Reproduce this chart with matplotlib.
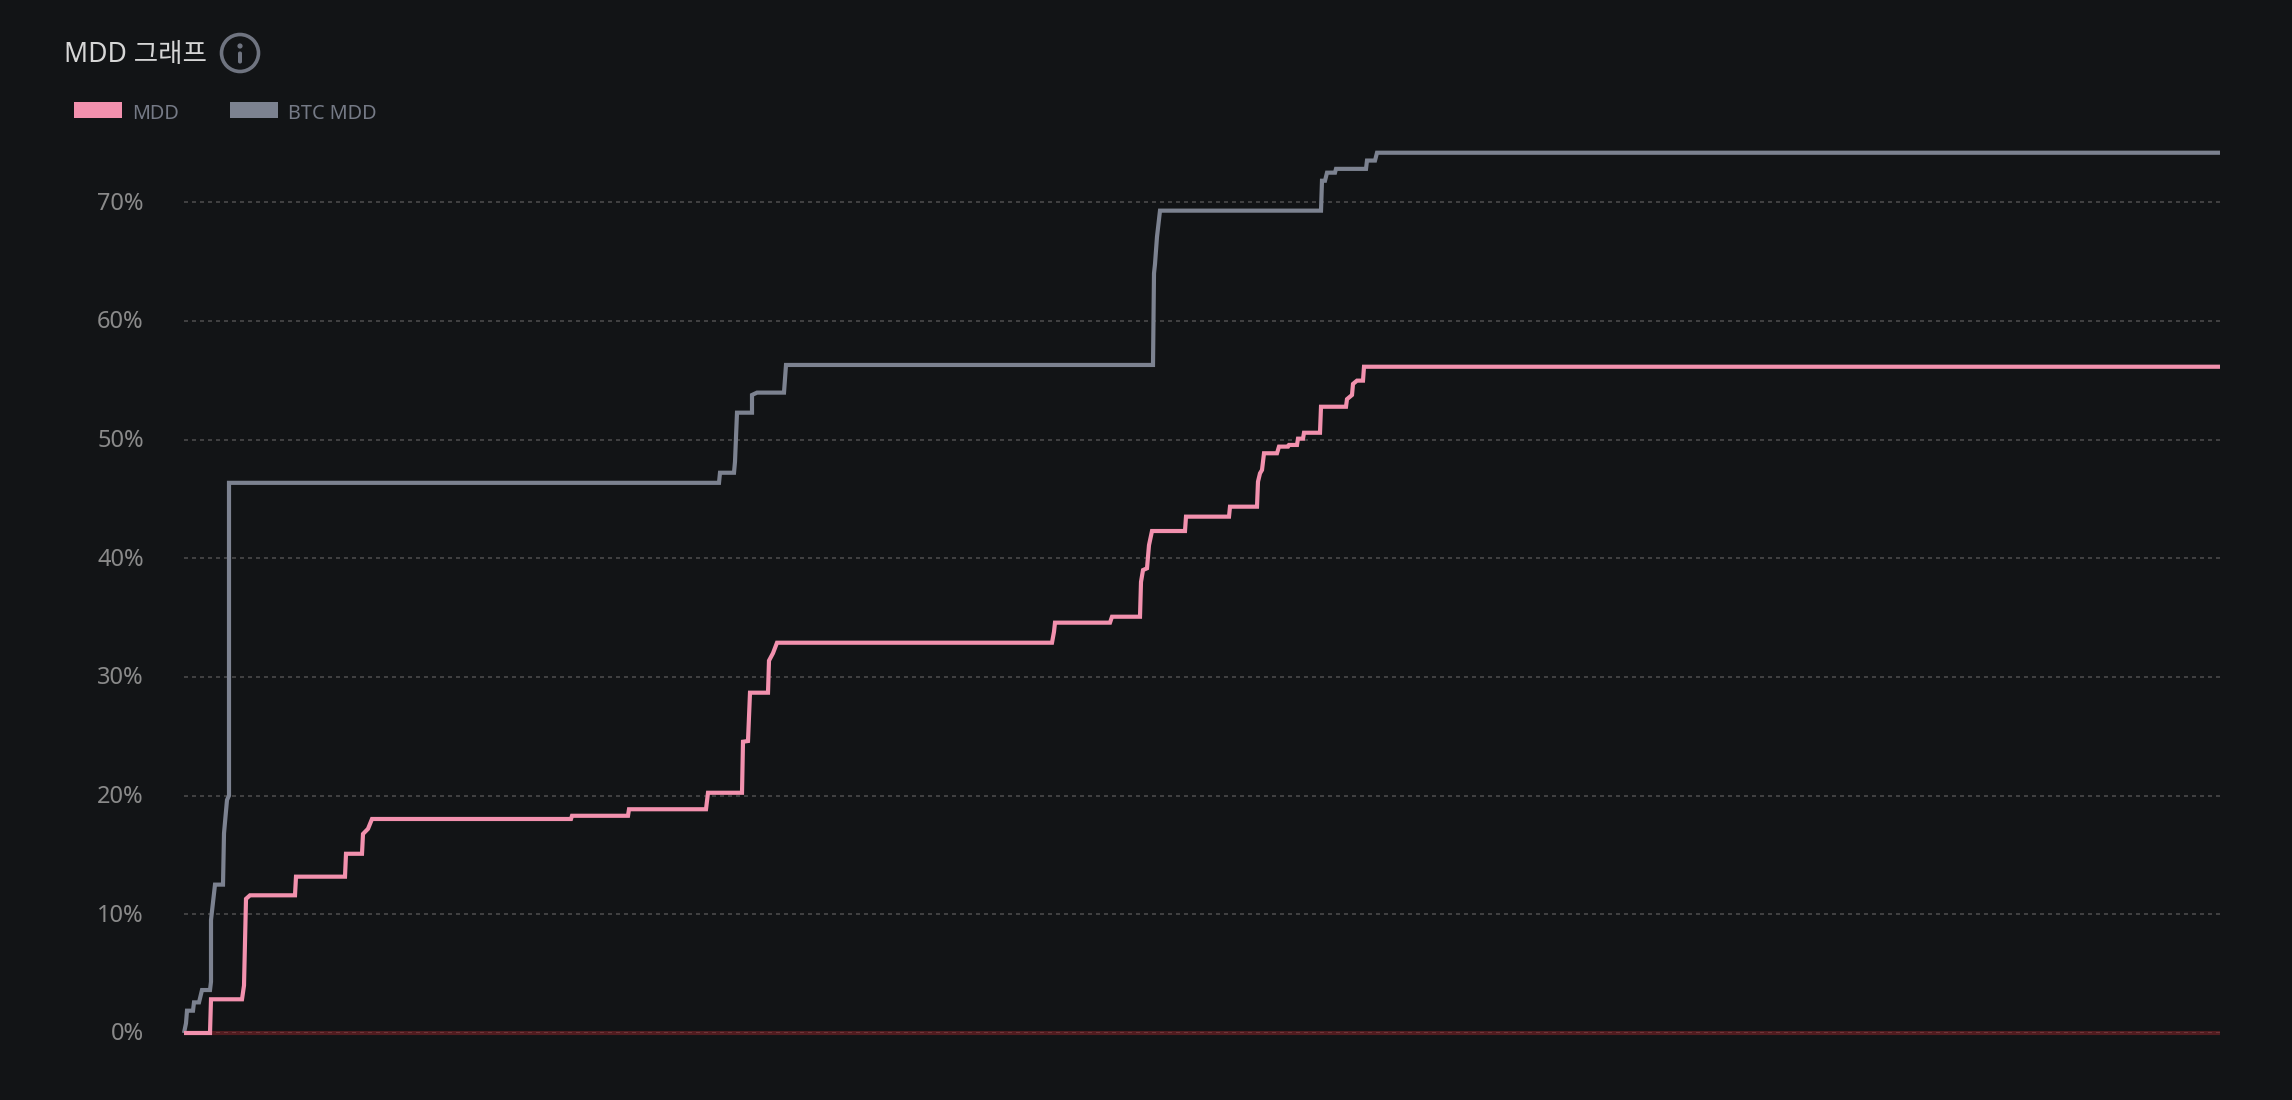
import matplotlib.pyplot as plt
from matplotlib.patches import Circle, Rectangle, FancyBboxPatch
from matplotlib.transforms import ScaledTranslation

# values, time axis has no labels so t is just chart position
mdd_t = [0, 26, 27, 58, 60, 62, 66, 111, 112, 161, 162, 178, 179, 184, 188, 387, 388, 444, 445, 522, 524, 558, 559,
         564, 566, 584, 585, 589, 593, 868, 870, 871, 926, 928, 956, 957, 959, 963, 965, 968, 1001, 1002, 1045,
         1046, 1073, 1074, 1076, 1078, 1080, 1093, 1095, 1104, 1105, 1113, 1114, 1119, 1120, 1136, 1137, 1162,
         1163, 1168, 1169, 1173, 1179, 1180, 2036]
mdd_v = [0, 0, 2.84, 2.84, 4.0, 11.3, 11.6, 11.6, 13.17, 13.17, 15.1, 15.1, 16.77, 17.2, 18.03, 18.03, 18.3, 18.3,
         18.85, 18.85, 20.24, 20.24, 24.54, 24.6, 28.67, 28.67, 31.37, 32.0, 32.88, 32.88, 33.8, 34.57, 34.57, 35.07,
         35.07, 38.0, 39.0, 39.15, 41.1, 42.29, 42.29, 43.5, 43.5, 44.34, 44.34, 46.45, 47.15, 47.43, 48.84, 48.84,
         49.4, 49.4, 49.54, 49.54, 50.07, 50.07, 50.57, 50.57, 52.76, 52.76, 53.4, 53.75, 54.68, 54.96, 54.96, 56.13,
         56.13]

btc_t = [0, 2, 3, 9, 10, 15, 16, 18, 26, 27, 27, 31, 39, 40, 43, 45, 45, 535, 536, 550, 551, 553, 568, 568, 573,
         600, 602, 969, 970, 971, 973, 976, 1137, 1138, 1141, 1143, 1151, 1152, 1182, 1183, 1191, 1193, 2036]
btc_v = [0, 0.82, 1.88, 1.88, 2.58, 2.58, 2.92, 3.62, 3.62, 4.32, 9.52, 12.5, 12.5, 16.82, 19.63, 20, 46.35, 46.35,
         47.2, 47.2, 48.13, 52.26, 52.26, 53.75, 53.95, 53.95, 56.28, 56.28, 64.0, 64.78, 67.08, 69.28, 69.28, 71.8,
         71.8, 72.48, 72.48, 72.8, 72.8, 73.5, 73.5, 74.16, 74.16]

y_ticks = [0, 10, 20, 30, 40, 50, 60, 70]
zero_line = 0

BG = '#121416'
PINK = '#f291ae'
GRAY = '#7c8290'
W, H = 2292, 1100

plt.rcParams['font.family'] = ['Noto Sans', 'Noto Sans CJK KR', 'DejaVu Sans']
plt.rcParams['lines.scale_dashes'] = False

fig = plt.figure(figsize=(W / 100, H / 100), dpi=100, facecolor=BG)

# main chart
left, right, bottom, top = 184, 2220, 1033, 83.4
ax = fig.add_axes([left / W, 1 - bottom / H, (right - left) / W, (bottom - top) / H], facecolor=BG)
ax.set_xlim(0, 2036)
ax.set_ylim(0, 80)
for s in ax.spines.values():
    s.set_visible(False)
ax.set_xticks([])
ax.set_yticks(y_ticks)
ax.set_yticklabels([f'{v}%' for v in y_ticks], color='#8a8a8a', fontsize=17)
ax.tick_params(axis='y', length=0, pad=29)
ax.grid(axis='y', color='#4a4a4a', linewidth=1.2, dashes=(2.88, 2.88))
ax.set_axisbelow(True)
# labels sit a touch higher than the gridlines
nudge = ScaledTranslation(0, 1.5 / 100, fig.dpi_scale_trans)
for lab in ax.get_yticklabels():
    lab.set_transform(lab.get_transform() + nudge)

ax.axhline(zero_line, color='#b02a30', alpha=0.4, linewidth=3, solid_capstyle='butt', clip_on=False, zorder=2)
ax.plot(btc_t, btc_v, color=GRAY, linewidth=3, solid_joinstyle='miter', solid_capstyle='butt', clip_on=False, zorder=3)
ax.plot(mdd_t, mdd_v, color=PINK, linewidth=3, solid_joinstyle='miter', solid_capstyle='butt', clip_on=False, zorder=4)

# title and legend sit above the plot, placed in pixels
ov = fig.add_axes([0, 0, 1, 1], facecolor='none')
ov.set_xlim(0, W)
ov.set_ylim(H, 0)
ov.axis('off')

ov.text(64, 62.5, 'MDD 그래프', color='#d6d6d6', fontsize=19.1, va='baseline', ha='left')
ov.add_patch(Circle((240, 53), 18.5, fill=False, edgecolor='#6f7480', linewidth=2.6))
ov.add_patch(Circle((240, 46), 2.6, color='#6f7480', linewidth=0))
ov.add_patch(FancyBboxPatch((238, 51.5), 4, 12, boxstyle='round,pad=0,rounding_size=1.8', color='#6f7480', linewidth=0))

ov.add_patch(Rectangle((74, 102), 48, 16, color=PINK, linewidth=0))
ov.text(132, 119, 'MDD', color='#757a86', fontsize=14.3, va='baseline')
ov.add_patch(Rectangle((230, 102), 48, 16, color=GRAY, linewidth=0))
ov.text(288, 119, 'BTC MDD', color='#757a86', fontsize=14.3, va='baseline')

fig.savefig('out.png', dpi=100, facecolor=BG)
